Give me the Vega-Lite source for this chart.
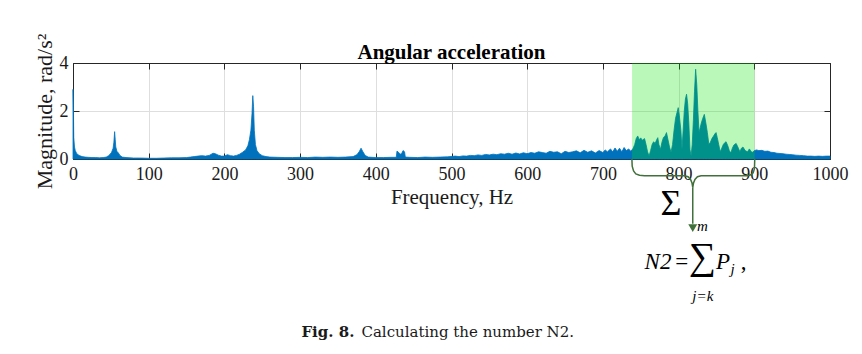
{
  "$schema": "https://vega.github.io/schema/vega-lite/v6.json",
  "width": 757,
  "height": 96,
  "autosize": {"type": "none"},
  "padding": {"left": 73, "top": 63, "right": 32, "bottom": 195},
  "background": "white",
  "config": {
    "view": {"stroke": "#262626", "strokeWidth": 1},
    "font": "Liberation Serif",
    "axis": {"labelFont": "Liberation Serif", "labelFontSize": 18, "labelColor": "#1a1a1a", "titleFont": "Liberation Serif", "titleFontWeight": "normal", "titleColor": "#1a1a1a", "domainColor": "#262626", "tickColor": "#262626", "gridColor": "#dedede"}
  },
  "title": {"text": "Angular acceleration", "font": "Liberation Serif", "fontSize": 21, "fontWeight": "bold", "color": "#000000", "anchor": "middle", "frame": "group", "offset": 2, "dy": 32},
  "datasets": {
    "spectrum": [
      {"f":0,"m":2.9},{"f":0.5,"m":2.2},{"f":1,"m":0.9},{"f":2,"m":0.5},{"f":3,"m":0.35},{"f":5,"m":0.22},{"f":8,"m":0.15},{"f":12,"m":0.1},{"f":16,"m":0.08},{"f":20,"m":0.07},{"f":25,"m":0.06},{"f":30,"m":0.06},{"f":35,"m":0.05},{"f":40,"m":0.06},{"f":44,"m":0.08},{"f":47,"m":0.14},{"f":49,"m":0.2},{"f":51,"m":0.28},{"f":53,"m":0.45},{"f":54,"m":0.7},{"f":55,"m":1.14},{"f":55.8,"m":0.8},{"f":56.5,"m":0.5},{"f":58,"m":0.32},{"f":60,"m":0.25},{"f":62,"m":0.15},{"f":65,"m":0.08},{"f":70,"m":0.06},{"f":80,"m":0.04},{"f":90,"m":0.04},{"f":100,"m":0.03},{"f":110,"m":0.03},{"f":120,"m":0.04},{"f":130,"m":0.05},{"f":140,"m":0.05},{"f":150,"m":0.06},{"f":155,"m":0.08},{"f":160,"m":0.1},{"f":165,"m":0.12},{"f":170,"m":0.14},{"f":175,"m":0.12},{"f":180,"m":0.15},{"f":185,"m":0.24},{"f":188,"m":0.22},{"f":192,"m":0.16},{"f":196,"m":0.12},{"f":200,"m":0.12},{"f":204,"m":0.18},{"f":208,"m":0.14},{"f":212,"m":0.12},{"f":216,"m":0.15},{"f":220,"m":0.2},{"f":224,"m":0.28},{"f":228,"m":0.38},{"f":231,"m":0.55},{"f":233,"m":0.8},{"f":235,"m":1.2},{"f":236.5,"m":1.9},{"f":237.5,"m":2.64},{"f":238.5,"m":2.2},{"f":239.5,"m":1.2},{"f":241,"m":0.6},{"f":243,"m":0.35},{"f":246,"m":0.22},{"f":250,"m":0.14},{"f":255,"m":0.1},{"f":260,"m":0.08},{"f":270,"m":0.07},{"f":280,"m":0.06},{"f":290,"m":0.06},{"f":300,"m":0.07},{"f":310,"m":0.06},{"f":320,"m":0.08},{"f":330,"m":0.07},{"f":340,"m":0.08},{"f":350,"m":0.07},{"f":360,"m":0.08},{"f":370,"m":0.1},{"f":375,"m":0.18},{"f":378,"m":0.3},{"f":380.5,"m":0.45},{"f":383,"m":0.3},{"f":386,"m":0.15},{"f":390,"m":0.08},{"f":400,"m":0.06},{"f":410,"m":0.06},{"f":420,"m":0.07},{"f":427,"m":0.07},{"f":428,"m":0.33},{"f":430,"m":0.28},{"f":432,"m":0.2},{"f":434,"m":0.22},{"f":436,"m":0.35},{"f":438,"m":0.3},{"f":439,"m":0.08},{"f":445,"m":0.07},{"f":455,"m":0.06},{"f":465,"m":0.08},{"f":475,"m":0.07},{"f":485,"m":0.08},{"f":495,"m":0.09},{"f":505,"m":0.12},{"f":510,"m":0.1},{"f":515,"m":0.13},{"f":520,"m":0.12},{"f":525,"m":0.15},{"f":530,"m":0.14},{"f":535,"m":0.17},{"f":540,"m":0.15},{"f":545,"m":0.19},{"f":550,"m":0.17},{"f":555,"m":0.2},{"f":560,"m":0.18},{"f":565,"m":0.22},{"f":570,"m":0.2},{"f":575,"m":0.24},{"f":580,"m":0.2},{"f":585,"m":0.25},{"f":590,"m":0.21},{"f":595,"m":0.26},{"f":600,"m":0.22},{"f":605,"m":0.27},{"f":610,"m":0.24},{"f":615,"m":0.3},{"f":620,"m":0.27},{"f":625,"m":0.24},{"f":630,"m":0.32},{"f":635,"m":0.28},{"f":640,"m":0.3},{"f":645,"m":0.22},{"f":650,"m":0.32},{"f":655,"m":0.27},{"f":660,"m":0.3},{"f":665,"m":0.34},{"f":670,"m":0.26},{"f":675,"m":0.36},{"f":680,"m":0.28},{"f":685,"m":0.34},{"f":690,"m":0.25},{"f":695,"m":0.35},{"f":700,"m":0.27},{"f":703,"m":0.38},{"f":706,"m":0.3},{"f":710,"m":0.42},{"f":713,"m":0.3},{"f":716,"m":0.46},{"f":719,"m":0.32},{"f":722,"m":0.45},{"f":725,"m":0.3},{"f":728,"m":0.48},{"f":731,"m":0.35},{"f":734,"m":0.42},{"f":737,"m":0.32},{"f":740,"m":0.45},
      {"f":742,"m":0.6},{"f":744,"m":0.85},{"f":746,"m":0.96},{"f":748,"m":0.8},{"f":750,"m":0.88},{"f":752,"m":0.78},{"f":755,"m":0.85},{"f":757,"m":0.6},{"f":759,"m":0.3},{"f":761,"m":0.12},{"f":763,"m":0.35},{"f":765,"m":0.6},{"f":767,"m":0.72},{"f":769,"m":0.65},{"f":771,"m":0.8},{"f":772.5,"m":0.89},{"f":774,"m":0.6},{"f":776,"m":0.4},{"f":778,"m":0.7},{"f":780,"m":0.9},{"f":782,"m":0.95},{"f":784,"m":1.1},{"f":786,"m":0.8},{"f":788,"m":0.5},{"f":790,"m":0.28},{"f":792,"m":0.6},{"f":794,"m":1.2},{"f":796,"m":1.7},{"f":798,"m":1.95},{"f":799.5,"m":2.14},{"f":801,"m":1.8},{"f":803,"m":1.2},{"f":804.5,"m":0.4},{"f":806,"m":1.2},{"f":807.5,"m":2.0},{"f":809,"m":2.5},{"f":810.5,"m":2.7},{"f":812,"m":2.3},{"f":813.5,"m":1.5},{"f":815,"m":0.4},{"f":816.5,"m":0.12},{"f":818,"m":0.6},{"f":819.5,"m":1.6},{"f":821,"m":2.8},{"f":822.5,"m":3.74},{"f":824,"m":3.1},{"f":825.5,"m":2.0},{"f":827,"m":1.1},{"f":828.5,"m":1.3},{"f":830,"m":1.5},{"f":832,"m":1.7},{"f":834,"m":1.86},{"f":836,"m":1.5},{"f":838,"m":1.1},{"f":840,"m":0.6},{"f":842,"m":0.7},{"f":844,"m":0.85},{"f":846,"m":0.95},{"f":848,"m":1.05},{"f":849.5,"m":1.1},{"f":851,"m":0.9},{"f":853,"m":0.6},{"f":855,"m":0.3},{"f":857,"m":0.45},{"f":859,"m":0.6},{"f":861,"m":0.68},{"f":862.7,"m":0.72},{"f":865,"m":0.55},{"f":867,"m":0.35},{"f":869,"m":0.25},{"f":871,"m":0.45},{"f":873,"m":0.58},{"f":876,"m":0.65},{"f":879,"m":0.45},{"f":881,"m":0.3},{"f":883,"m":0.45},{"f":885,"m":0.5},{"f":888,"m":0.35},{"f":891,"m":0.3},{"f":893.5,"m":0.42},{"f":896,"m":0.3},{"f":898,"m":0.28},{"f":900,"m":0.35},{"f":903,"m":0.38},{"f":906,"m":0.35},{"f":910,"m":0.36},{"f":914,"m":0.32},{"f":918,"m":0.33},{"f":922,"m":0.28},{"f":926,"m":0.27},{"f":930,"m":0.24},{"f":934,"m":0.23},{"f":938,"m":0.22},{"f":942,"m":0.2},{"f":946,"m":0.19},{"f":950,"m":0.18},{"f":955,"m":0.16},{"f":960,"m":0.15},{"f":965,"m":0.14},{"f":970,"m":0.12},{"f":975,"m":0.12},{"f":980,"m":0.11},{"f":985,"m":0.12},{"f":990,"m":0.11},{"f":995,"m":0.12},{"f":1000,"m":0.12}
    ],
    "brace": [
      {"o":0,"f":738.3,"m":0.0},{"o":1,"f":738.7,"m":-0.3},{"o":2,"f":740.5,"m":-0.5},{"o":3,"f":743.5,"m":-0.62},{"o":4,"f":748.3,"m":-0.68},{"o":5,"f":755,"m":-0.7},{"o":6,"f":807.7,"m":-0.7},{"o":7,"f":812.5,"m":-0.74},{"o":8,"f":815.8,"m":-0.85},{"o":9,"f":817.7,"m":-1.0},{"o":10,"f":818.7,"m":-1.18},{"o":11,"f":819.7,"m":-1.0},{"o":12,"f":821.6,"m":-0.85},{"o":13,"f":824.9,"m":-0.74},{"o":14,"f":829.7,"m":-0.7},{"o":15,"f":891.3,"m":-0.7},{"o":16,"f":895.5,"m":-0.66},{"o":17,"f":898.5,"m":-0.58},{"o":18,"f":900.2,"m":-0.4},{"o":19,"f":900.6,"m":0.0}
    ]
  },
  "layer": [
    {
      "data": {"name": "spectrum"},
      "mark": {"type": "area", "color": "#0072BD", "stroke": "#0072BD", "strokeWidth": 0.8, "interpolate": "linear"},
      "encoding": {
        "x": {"field": "f", "type": "quantitative", "scale": {"domain": [0, 1000], "nice": false, "zero": false},
          "axis": {"orient": "bottom", "values": [0,100,200,300,400,500,600,700,800,900,1000], "format": "d", "tickSize": -6, "labelPadding": 12, "labelFlush": false, "labelOverlap": false, "grid": true, "labelFont": "Liberation Serif", "labelFontSize": 18, "title": "Frequency, Hz", "titleFontSize": 21, "titlePadding": 3}},
        "y": {"field": "m", "type": "quantitative", "scale": {"domain": [0, 4], "nice": false},
          "axis": {"orient": "left", "values": [0, 2, 4], "format": "d", "tickSize": -6, "labelPadding": 11, "labelOverlap": false, "grid": true, "labelFont": "Liberation Serif", "labelFontSize": 18, "title": "Magnitude, rad/s²", "titleFontSize": 22, "titlePadding": 3}}
      }
    },
    {
      "data": {"values": [{"start": 738.5, "end": 900.5, "lo": 0, "hi": 4}]},
      "mark": {"type": "rect", "color": "#00e500", "fillOpacity": 0.27},
      "encoding": {
        "x": {"field": "start", "type": "quantitative", "scale": {"domain": [0, 1000], "nice": false, "zero": false},
          "axis": {"orient": "top", "values": [0,100,200,300,400,500,600,700,800,900,1000], "tickSize": -6, "labels": false, "grid": false, "title": null}},
        "x2": {"field": "end"},
        "y": {"field": "lo", "type": "quantitative", "scale": {"domain": [0, 4], "nice": false},
          "axis": {"orient": "right", "values": [0, 2, 4], "tickSize": -6, "labels": false, "grid": false, "title": null}},
        "y2": {"field": "hi"}
      }
    },
    {
      "data": {"name": "brace"},
      "mark": {"type": "line", "color": "#41703a", "strokeWidth": 1.5, "interpolate": "linear"},
      "encoding": {
        "x": {"field": "f", "type": "quantitative", "scale": {"domain": [0, 1000], "nice": false, "zero": false}, "axis": null},
        "y": {"field": "m", "type": "quantitative", "scale": {"domain": [0, 4], "nice": false}, "axis": null},
        "order": {"field": "o", "type": "quantitative"}
      }
    },
    {
      "data": {"values": [{"f": 818.7, "top": -1.18, "bottom": -2.7}]},
      "mark": {"type": "rule", "color": "#41703a", "strokeWidth": 1.5},
      "encoding": {
        "x": {"field": "f", "type": "quantitative", "scale": {"domain": [0, 1000], "nice": false, "zero": false}, "axis": null},
        "y": {"field": "top", "type": "quantitative", "scale": {"domain": [0, 4], "nice": false}, "axis": null},
        "y2": {"field": "bottom"}
      }
    },
    {
      "data": {"values": [{"f": 818.7, "m": -2.88}]},
      "mark": {"type": "point", "shape": "triangle-down", "filled": true, "color": "#41703a", "size": 80, "opacity": 1},
      "encoding": {
        "x": {"field": "f", "type": "quantitative", "scale": {"domain": [0, 1000], "nice": false, "zero": false}, "axis": null},
        "y": {"field": "m", "type": "quantitative", "scale": {"domain": [0, 4], "nice": false}, "axis": null}
      }
    },
    {
      "data": {"values": [{"t": "Σ", "f": 790, "m": -2.33}]},
      "mark": {"type": "text", "font": "Liberation Serif", "fontSize": 36, "align": "center", "baseline": "alphabetic", "color": "#000000"},
      "encoding": {
        "x": {"field": "f", "type": "quantitative", "scale": {"domain": [0, 1000], "nice": false, "zero": false}, "axis": null},
        "y": {"field": "m", "type": "quantitative", "scale": {"domain": [0, 4], "nice": false}, "axis": null},
        "text": {"field": "t"}
      }
    },
    {
      "data": {"values": [{"t": "∑", "f": 831.5, "m": -4.58}]},
      "mark": {"type": "text", "font": "Liberation Serif", "fontSize": 38, "align": "center", "baseline": "alphabetic", "color": "#000000"},
      "encoding": {
        "x": {"field": "f", "type": "quantitative", "scale": {"domain": [0, 1000], "nice": false, "zero": false}, "axis": null},
        "y": {"field": "m", "type": "quantitative", "scale": {"domain": [0, 4], "nice": false}, "axis": null},
        "text": {"field": "t"}
      }
    },
    {
      "data": {"values": [{"t": "N2", "f": 755, "m": -4.58}, {"t": "P", "f": 849.5, "m": -4.58}]},
      "mark": {"type": "text", "font": "Liberation Serif", "fontSize": 23, "fontStyle": "italic", "align": "left", "baseline": "alphabetic", "color": "#000000"},
      "encoding": {
        "x": {"field": "f", "type": "quantitative", "scale": {"domain": [0, 1000], "nice": false, "zero": false}, "axis": null},
        "y": {"field": "m", "type": "quantitative", "scale": {"domain": [0, 4], "nice": false}, "axis": null},
        "text": {"field": "t"}
      }
    },
    {
      "data": {"values": [{"t": "=", "f": 795.5, "m": -4.58}, {"t": ",", "f": 882, "m": -4.58}]},
      "mark": {"type": "text", "font": "Liberation Serif", "fontSize": 23, "align": "left", "baseline": "alphabetic", "color": "#000000"},
      "encoding": {
        "x": {"field": "f", "type": "quantitative", "scale": {"domain": [0, 1000], "nice": false, "zero": false}, "axis": null},
        "y": {"field": "m", "type": "quantitative", "scale": {"domain": [0, 4], "nice": false}, "axis": null},
        "text": {"field": "t"}
      }
    },
    {
      "data": {"values": [{"t": "j", "f": 868.5, "m": -4.8}]},
      "mark": {"type": "text", "font": "Liberation Serif", "fontSize": 15, "fontStyle": "italic", "align": "left", "baseline": "alphabetic", "color": "#000000"},
      "encoding": {
        "x": {"field": "f", "type": "quantitative", "scale": {"domain": [0, 1000], "nice": false, "zero": false}, "axis": null},
        "y": {"field": "m", "type": "quantitative", "scale": {"domain": [0, 4], "nice": false}, "axis": null},
        "text": {"field": "t"}
      }
    },
    {
      "data": {"values": [{"t": "m", "f": 831.5, "m": -2.8}, {"t": "j=k", "f": 832, "m": -5.7}]},
      "mark": {"type": "text", "font": "Liberation Serif", "fontSize": 15, "fontStyle": "italic", "align": "center", "baseline": "middle", "color": "#000000"},
      "encoding": {
        "x": {"field": "f", "type": "quantitative", "scale": {"domain": [0, 1000], "nice": false, "zero": false}, "axis": null},
        "y": {"field": "m", "type": "quantitative", "scale": {"domain": [0, 4], "nice": false}, "axis": null},
        "text": {"field": "t"}
      }
    },
    {
      "data": {"values": [{"t": "Fig. 8.", "f": 301.8, "m": -7.43}]},
      "mark": {"type": "text", "font": "DejaVu Serif", "fontSize": 15, "fontWeight": "bold", "align": "left", "baseline": "alphabetic", "color": "#1a1a1a"},
      "encoding": {
        "x": {"field": "f", "type": "quantitative", "scale": {"domain": [0, 1000], "nice": false, "zero": false}, "axis": null},
        "y": {"field": "m", "type": "quantitative", "scale": {"domain": [0, 4], "nice": false}, "axis": null},
        "text": {"field": "t"}
      }
    },
    {
      "data": {"values": [{"t": "Calculating the number N2.", "f": 381, "m": -7.43}]},
      "mark": {"type": "text", "font": "DejaVu Serif", "fontSize": 15, "align": "left", "baseline": "alphabetic", "color": "#1a1a1a"},
      "encoding": {
        "x": {"field": "f", "type": "quantitative", "scale": {"domain": [0, 1000], "nice": false, "zero": false}, "axis": null},
        "y": {"field": "m", "type": "quantitative", "scale": {"domain": [0, 4], "nice": false}, "axis": null},
        "text": {"field": "t"}
      }
    }
  ],
  "resolve": {"axis": {"x": "independent", "y": "independent"}}
}
